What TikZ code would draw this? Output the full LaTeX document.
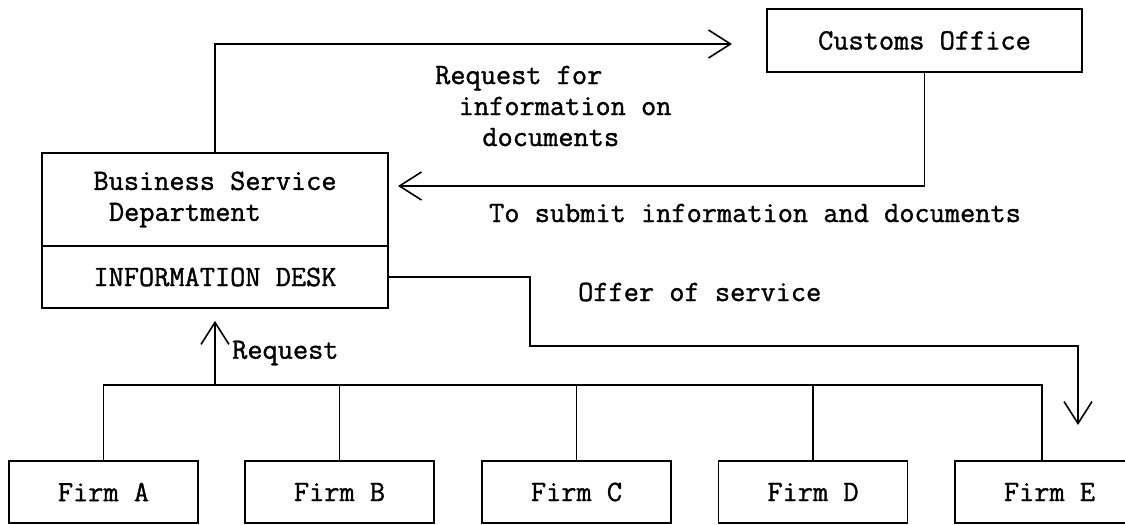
\documentclass[tikz,border=0pt]{standalone}
\usepackage{fontspec}
\newfontfamily\tw{Latin Modern Mono}[FakeBold=1.2]
\usetikzlibrary{arrows.meta,calc}
\begin{document}
\begin{tikzpicture}[x=1pt,y=-1pt,
  font=\tw\fontsize{29.5}{31}\selectfont,
  box/.style={draw, line width=1.8pt, inner sep=0pt, rectangle},
  firm/.style={box, minimum width=189pt, minimum height=62pt},
  link/.style={line width=1.6pt},
  arr/.style={link, -{Straight Barb[length=22pt,width=28pt,line width=1.6pt]}},
  lbl/.style={inner sep=0pt}]
\useasboundingbox[fill=white] (0,0) rectangle (1125,525);

% offices
\node[box, minimum width=315pt, minimum height=63pt] (cust) at (924.5,40.5) {Customs Office};
\node[box, minimum width=346pt, minimum height=93pt, align=left] (bsd) at (215,199.5)
  {Business Service\\\hspace*{0.525em}Department};
\node[box, minimum width=346pt, minimum height=62pt] (desk) at (215,277) {INFORMATION DESK};

% firms
\node[firm] (fa) at (103.5,492) {Firm A};
\node[firm] (fb) at (339.5,492) {Firm B};
\node[firm] (fc) at (576.5,492) {Firm C};
\node[firm] (fd) at (813,492) {Firm D};
\node[firm] (fe) at (1049.5,492) {Firm E};

% helper points
\coordinate (topTip) at (732,44);
\coordinate (backTip) at (398,186);
\coordinate (offBend) at (530,346);
\coordinate (offTip) at (1078,425);
\coordinate (bus) at (0,385);
\coordinate (eTop) at ([xshift=-7.5pt]fe.north);

% request to customs and the answer back
\draw[arr] (bsd.north) |- (topTip);
\draw[arr] (cust.south) |- (backTip);

% offer of service to the firm
\draw[arr] (desk.east) -| (offBend) -| (offTip);

% firms' common line and the request
\draw[link] (fa.north) |- (eTop |- bus) -- (eTop);
\foreach \f in {fb,fc,fd} \draw[link] (\f.north) -- (\f.north |- bus);
\draw[arr] (desk.south |- bus) -- ($(desk.south)+(0,12)$);

% labels
\node[lbl, anchor=west, align=left] (reqcust) at (435,106)
  {Request for\\\hspace*{0.8em}information on\\\hspace*{1.6em}documents};
\node[lbl] (submit) at (755,213) {To submit information and documents};
\node[lbl, anchor=west] (offer) at (578,292) {Offer of service};
\node[lbl, anchor=west] (reqlbl) at (232,353) {Request};
\end{tikzpicture}
\end{document}
